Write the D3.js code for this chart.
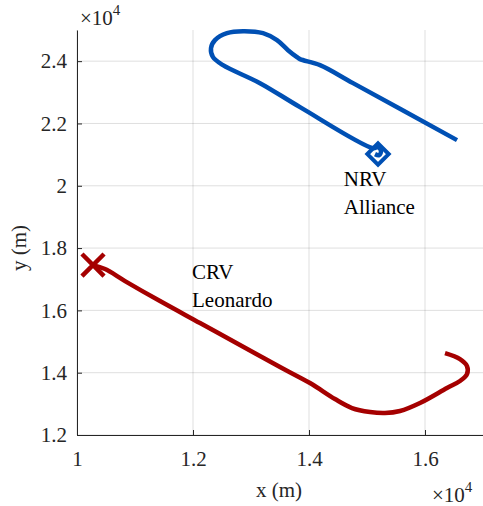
<!DOCTYPE html>
<html><head><meta charset="utf-8">
<script src="https://cdn.jsdelivr.net/npm/d3@7"></script>
<style>body{margin:0;background:#fff}svg{display:block}</style>
</head><body><svg id="c" width="483" height="506"></svg>
<script>
const xTicks = [10000, 12000, 14000, 16000];
const xTickLabels = ["1", "1.2", "1.4", "1.6"];
const yTicks = [12000, 14000, 16000, 18000, 20000, 22000, 24000];
const yTickLabels = ["1.2", "1.4", "1.6", "1.8", "2", "2.2", "2.4"];
const nrvX = [16552, 14759, 14190, 13845, 13793, 13638, 13448, 13207, 12862, 12586, 12379, 12310, 12345, 12517, 13155, 13845, 15103, 15190, 15241, 15207, 15138];
const nrvY = [21465, 23294, 23872, 24064, 24128, 24353, 24674, 24898, 24962, 24898, 24674, 24417, 24128, 23872, 23294, 22524, 21208, 21241, 21112, 20984, 21016];
const crvX = [10276, 10483, 10828, 11431, 12121, 12810, 13500, 14017, 14448, 14741, 15052, 15310, 15569, 15914, 16379, 16603, 16724, 16724, 16603, 16345];
const crvY = [17455, 17326, 16941, 16299, 15594, 14888, 14182, 13668, 13155, 12866, 12738, 12706, 12770, 13027, 13508, 13733, 13957, 14214, 14439, 14631];
const nrvMarker = [15190, 21016];
const crvMarker = [10276, 17455];
const labels = [
  {lines: ["NRV", "Alliance"], x: 14600, y: 19989},
  {lines: ["CRV", "Leonardo"], x: 11983, y: 17005}
];

const FONT = '"Liberation Serif","Times New Roman",serif';
const svg = d3.select("#c").style("font-family", FONT);
const L = 77, R = 483, T = 30, B = 435;
const x = d3.scaleLinear().domain([10000, 17000]).range([L, R]);
const y = d3.scaleLinear().domain([12000, 25000]).range([B, T]);

// grid
const g = svg.append("g");
g.selectAll(".gx").data(xTicks).join("line")
  .attr("x1", d => x(d)).attr("x2", d => x(d)).attr("y1", T).attr("y2", B)
  .attr("stroke", "#262626").attr("stroke-opacity", 0.15).attr("stroke-width", 1);
g.selectAll(".gy").data(yTicks).join("line")
  .attr("x1", L).attr("x2", R).attr("y1", d => y(d)).attr("y2", d => y(d))
  .attr("stroke", "#262626").attr("stroke-opacity", 0.15).attr("stroke-width", 1);

// axes
const xAxis = d3.axisBottom(x).tickValues(xTicks).tickFormat((d, i) => xTickLabels[i]).tickSizeInner(-5).tickSizeOuter(0).tickPadding(16);
const yAxis = d3.axisLeft(y).tickValues(yTicks).tickFormat((d, i) => yTickLabels[i]).tickSizeInner(-5).tickSizeOuter(0).tickPadding(10);
const ax = svg.append("g").attr("transform", `translate(0,${B})`).call(xAxis);
const ay = svg.append("g").attr("transform", `translate(${L},0)`).call(yAxis);
[ax, ay].forEach(a => {
  a.attr("font-size", null).attr("font-family", null);
  a.select(".domain").attr("stroke", "#262626");
  a.selectAll(".tick line").attr("stroke", "#262626");
  a.selectAll(".tick text").attr("fill", "#262626").style("font-family", FONT).style("font-size", "21px");
});

// lines
const line = d3.line().curve(d3.curveCatmullRom.alpha(0.5)).x(d => x(d[0])).y(d => y(d[1]));
svg.append("path").datum(nrvX.map((v, i) => [v, nrvY[i]])).attr("d", line)
  .attr("fill", "none").attr("stroke", "#0050B4").attr("stroke-width", 4.5).attr("stroke-linejoin", "round");
svg.append("path").datum(crvX.map((v, i) => [v, crvY[i]])).attr("d", line)
  .attr("fill", "none").attr("stroke", "#A50000").attr("stroke-width", 4.5).attr("stroke-linejoin", "round");

// markers
svg.append("path").attr("d", d3.symbol(d3.symbolDiamond2, 290)())
  .attr("transform", `translate(${x(nrvMarker[0])},${y(nrvMarker[1])})`)
  .attr("fill", "none").attr("stroke", "#0050B4").attr("stroke-width", 4);
svg.append("path").attr("d", d3.symbol(d3.symbolX, 320)())
  .attr("transform", `translate(${x(crvMarker[0])},${y(crvMarker[1])})`)
  .attr("fill", "none").attr("stroke", "#A50000").attr("stroke-width", 4.5);

// annotations
labels.forEach(l => {
  const t = svg.append("text").attr("x", x(l.x)).attr("y", y(l.y)).style("font-family", FONT).style("font-size", "21px").attr("fill", "#000");
  l.lines.forEach((s, i) => t.append("tspan").attr("x", x(l.x)).attr("dy", i ? 28 : 0).text(s));
});

// axis labels
svg.append("text").attr("x", 279).attr("y", 497).attr("text-anchor", "middle").style("font-family", FONT).style("font-size", "21px").attr("fill", "#262626").text("x (m)");
svg.append("text").attr("transform", "translate(26,248) rotate(-90)").attr("text-anchor", "middle").style("font-family", FONT).style("font-size", "21px").attr("fill", "#262626").text("y (m)");

// exponent labels
function expo(xp, yp) {
  const t = svg.append("text").attr("x", xp).attr("y", yp).style("font-family", FONT).style("font-size", "21px").attr("fill", "#262626");
  t.append("tspan").text("\u00d710");
  t.append("tspan").attr("dy", -10).style("font-size", "15px").text("4");
}
expo(80, 25);
expo(432, 502);
</script></body></html>
